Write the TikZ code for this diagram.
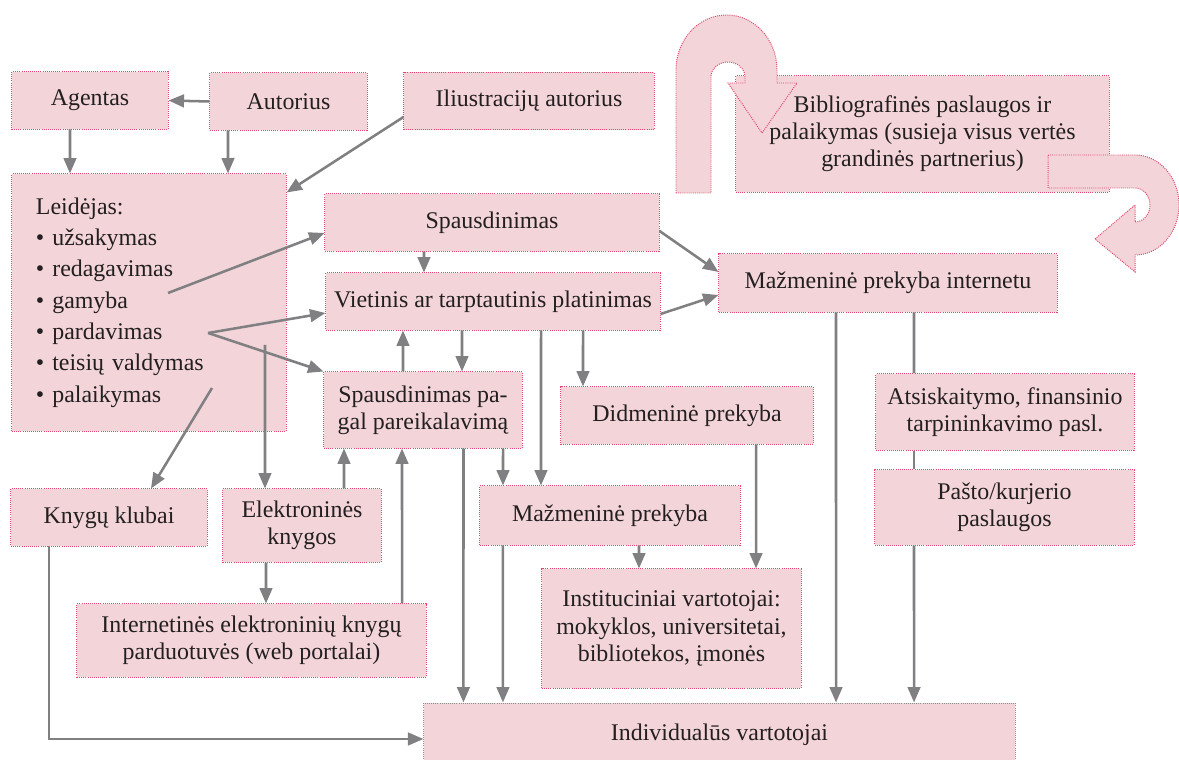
\documentclass[tikz,border=0pt]{standalone}
\usepackage{fontspec}
\setmainfont{Liberation Serif}
\usetikzlibrary{arrows.meta, positioning, calc}
\definecolor{boxpink}{RGB}{243, 213, 217}
\definecolor{dotred}{RGB}{226, 70, 112}
\definecolor{dotgray}{RGB}{140, 140, 140}
\definecolor{arrgray}{RGB}{128, 128, 131}
\definecolor{inkblack}{RGB}{35, 31, 32}
\tikzset{
    blk/.style={rectangle, draw=dotred, fill=boxpink, line width=0.7pt,
                dash pattern=on 0.7pt off 0.8pt, text=inkblack,
                font=\fontsize{17}{19.3}\selectfont, align=center,
                minimum height=1.425cm, inner sep=2pt},
    turn/.style={draw=dotred, fill=boxpink, line width=0.7pt,
                 dash pattern=on 0.7pt off 0.8pt},
    arr/.style={line width=1.8pt, -{Triangle[length=11pt, width=9pt]}, color=arrgray},
    link/.style={line width=1.8pt, color=arrgray},
}

\begin{document}
\begin{tikzpicture}[x=0.025cm, y=-0.025cm]
    \clip (0,0) rectangle (1179,760);

    % Top row
    \node[blk, minimum width=3.9cm] (agent) at (90,100.5) {Agentas};
    \node[blk, minimum width=3.925cm] (author) at (288.5,101.5) {Autorius};
    \node[blk, minimum width=6.25cm] (illus) at (529,101) {Iliustracijų autorius};
    \node[blk, minimum width=9.325cm, minimum height=2.9cm] (biblio) at (922.5,134)
        {Bibliografinės paslaugos ir\\palaikymas (susieja visus vertės\\grandinės partnerius)};

    % Publisher
    \node[blk, align=left, text width=5.65cm, inner xsep=0.6cm, minimum height=6.425cm] (publisher) at (149,302.5)
        {Leidėjas:\\[3pt] \textbullet\ užsakymas\\[3pt] \textbullet\ redagavimas\\[3pt]
         \textbullet\ gamyba\\[3pt] \textbullet\ pardavimas\\[3pt] \textbullet\ teisių valdymas\\[3pt]
         \textbullet\ palaikymas};

    % Middle
    \node[blk, minimum width=8.35cm] (print) at (492,222.5) {Spausdinimas};
    \node[blk, minimum width=8.35cm] (distr) at (493,301.5) {Vietinis ar tarptautinis platinimas};
    \node[blk, minimum width=4.95cm, minimum height=1.9cm] (pod) at (423,410) {Spausdinimas pa-\\gal pareikalavimą};
    \node[blk, minimum width=6.3cm] (wholesale) at (687,415.5) {Didmeninė prekyba};
    \node[blk, minimum width=6.5cm, minimum height=1.475cm] (retail) at (610,515.5) {Mažmeninė prekyba};
    \node[blk, minimum width=6.475cm, minimum height=2.975cm] (inst) at (671.5,628.5)
        {Instituciniai vartotojai:\\mokyklos, universitetai,\\bibliotekos, įmonės};

    % Right
    \node[blk, minimum width=8.45cm, minimum height=1.45cm] (online) at (888,283) {Mažmeninė prekyba internetu};
    \node[blk, minimum width=6.45cm, minimum height=1.9cm] (payment) at (1005,412) {Atsiskaitymo, finansinio\\tarpininkavimo pasl.};
    \node[blk, minimum width=6.475cm, minimum height=1.875cm] (post) at (1004.5,507.5) {Pašto/kurjerio\\paslaugos};

    % Left bottom
    \node[blk, minimum width=4.9cm] (clubs) at (109,517.5) {Knygų klubai};
    \node[blk, minimum width=3.95cm, minimum height=1.825cm] (ebooks) at (302,525.5) {Elektroninės\\knygos};
    \node[blk, minimum width=8.725cm, minimum height=1.825cm] (eshops) at (251.5,640.5)
        {Internetinės elektroninių knygų\\parduotuvės (web portalai)};
    \node[blk, draw=dotgray, minimum width=14.775cm, minimum height=1.6cm] (indiv) at (719.5,735) {Individualūs vartotojai};

    % U-turn arrows round the bibliographic box
    \draw[turn] (676,193) -- (676,70) arc[start angle=180, end angle=360, x radius=50.5, y radius=55]
        -- (777,83) -- (797,83) -- (762,133) -- (728,83) -- (745,83) -- (745,77)
        arc[start angle=0, end angle=-180, x radius=17, y radius=15] -- (711,193) -- cycle;
    \draw[turn] (1048,155) -- (1135,155) arc[start angle=-90, end angle=90, x radius=44, y radius=50]
        -- (1135,272) -- (1095,239) -- (1135,205) -- (1135,222)
        arc[start angle=90, end angle=-90, x radius=15, y radius=17] -- (1048,188) -- cycle;

    % Top row
    \draw[arr] (author.west) -- (agent.east);
    \draw[arr] ([xshift=-0.5cm]agent.south) -- ([xshift=-1.975cm]publisher.north);
    \draw[arr] ([xshift=-1.5125cm]author.south) -- ([xshift=1.975cm]publisher.north);
    \draw[arr] ([yshift=-0.4cm]illus.west) -- ([yshift=-0.475cm]publisher.north east);

    % Out of the publisher
    \coordinate (gam) at (168,293);
    \coordinate (par) at (208,333);
    \coordinate (tei) at (212,388);
    \coordinate (ebk) at (265,345);
    \draw[arr] (gam) -- ([yshift=-0.2625cm]print.west);
    \draw[arr] (par) -- ([yshift=-0.2875cm]distr.west);
    \draw[arr] (par) -- (pod.north west);
    \draw[arr] (tei) -- ([xshift=1.05cm]clubs.north);
    \draw[arr] (ebk) -- ([xshift=-0.925cm]ebooks.north);

    % Printing and distribution
    \draw[arr] ([xshift=-1.7cm]print.south) -- ([xshift=-1.725cm]distr.north);
    \draw[arr] ([yshift=-0.2125cm]print.east) -- ([yshift=0.275cm]online.west);
    \draw[arr] ([yshift=-0.3125cm]distr.east) -- ([yshift=-0.3cm]online.west);
    \draw[arr] ([xshift=-0.5cm]pod.north) -- ([xshift=-2.25cm]distr.south);
    \draw[arr] ([xshift=-0.775cm]distr.south) -- ([xshift=0.975cm]pod.north);
    \draw[arr] ([xshift=1.2cm]distr.south) -- ([xshift=-1.725cm]retail.north);
    \draw[arr] ([xshift=2.25cm]distr.south) -- ([xshift=-2.6cm]wholesale.north);

    % E-books
    \draw[arr] ([xshift=1.05cm]ebooks.north) -- ([xshift=-1.975cm]pod.south);
    \draw[arr] ([xshift=3.7625cm]eshops.north) -- ([xshift=-0.525cm]pod.south);
    \draw[arr] ([xshift=-0.9cm]ebooks.south) -- ([xshift=0.3625cm]eshops.north);

    % Down to the readers
    \draw[arr] ([xshift=1.0125cm]pod.south) -- ([xshift=-6.4cm]indiv.north);
    \draw[arr] ([xshift=2cm]pod.south) -- ([xshift=-2.675cm]retail.north);
    \draw[arr] ([xshift=-2.675cm]retail.south) -- ([xshift=-5.4125cm]indiv.north);
    \draw[arr] ([xshift=0.725cm]retail.south) -- ([xshift=-0.8125cm]inst.north);
    \draw[arr] ([xshift=1.725cm]wholesale.south) -- ([xshift=2.1125cm]inst.north);
    \draw[arr] ([xshift=-1.3cm]online.south) -- ([xshift=2.9125cm]indiv.north);
    \draw[link] ([xshift=0.65cm]online.south) -- ([xshift=-2.275cm]payment.north);
    \draw[link] ([xshift=-2.275cm]payment.south) -- ([xshift=-2.2625cm]post.north);
    \draw[arr] ([xshift=-2.2625cm]post.south) -- ([xshift=4.8625cm]indiv.north);
    \draw[arr] ([xshift=-1.5cm]clubs.south) |- ([yshift=-0.1cm]indiv.west);
\end{tikzpicture}
\end{document}
